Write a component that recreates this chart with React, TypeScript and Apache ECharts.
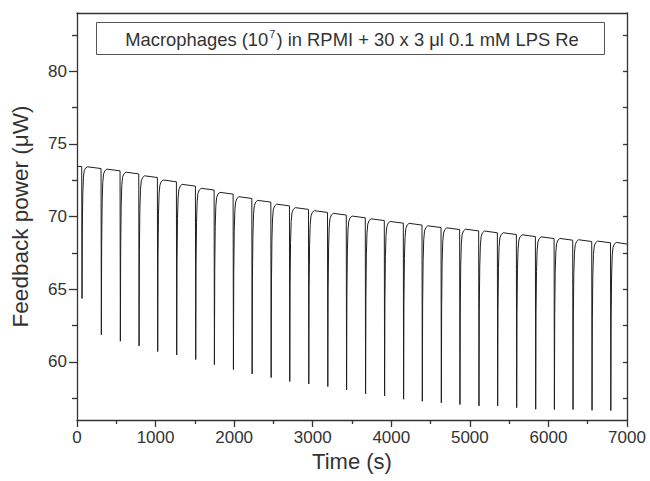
import React, { useEffect, useRef } from "react";
import * as echarts from "echarts";

// Injection (spike) times in seconds
const spikeTimes = [64, 310, 552, 790, 1027, 1269, 1511, 1749, 1991, 2229, 2471, 2708, 2950, 3192, 3431, 3673, 3915, 4157, 4395, 4637, 4874, 5116, 5354, 5596, 5838, 6076, 6313, 6555, 6794];
// Minimum feedback power reached at each spike (µW)
const spikeMinima = [64.36, 61.86, 61.42, 61.1, 60.71, 60.48, 60.16, 59.81, 59.47, 59.17, 58.92, 58.65, 58.48, 58.3, 58.07, 57.8, 57.66, 57.43, 57.29, 57.18, 57.06, 56.97, 56.97, 56.85, 56.74, 56.72, 56.72, 56.67, 56.65];
// Plateau level reached after each spike (µW)
const plateauLevels = [73.37, 73.21, 73.0, 72.75, 72.46, 72.16, 71.89, 71.61, 71.31, 71.06, 70.8, 70.56, 70.35, 70.17, 69.98, 69.79, 69.61, 69.48, 69.31, 69.17, 69.08, 68.95, 68.83, 68.69, 68.55, 68.44, 68.35, 68.26, 68.17];
const initialLevel = 73.45;
const endTime = 7000;
// Shape of the recovery after an injection (seconds after spike, fraction recovered)
const recoveryOffsets = [4, 10, 18, 28, 45, 70];
const recoveryFractions = [0.55, 0.8, 0.92, 0.97, 0.99, 1.0];
const plateauSag = 0.12;

const xTicks = [0, 1000, 2000, 3000, 4000, 5000, 6000, 7000];
const yMajor = [60, 65, 70, 75, 80];
const yMinor = [57.5, 62.5, 67.5, 72.5, 77.5, 82.5];

function buildSeries(): number[][] {
  const pts: number[][] = [[0, initialLevel], [spikeTimes[0] - 4, initialLevel - 0.01]];
  for (let k = 0; k < spikeTimes.length; k++) {
    const t = spikeTimes[k];
    const m = spikeMinima[k];
    const peak = plateauLevels[k] + 0.05;
    pts.push([t, m]);
    for (let j = 0; j < recoveryOffsets.length; j++) {
      pts.push([t + recoveryOffsets[j], m + recoveryFractions[j] * (peak - m)]);
    }
    const end = k < spikeTimes.length - 1 ? spikeTimes[k + 1] - 4 : endTime;
    pts.push([end, peak - plateauSag]);
  }
  return pts;
}

const FONT = "'Liberation Sans', Arial, Helvetica, sans-serif";
const AX = "#333";

export default function App() {
  const ref = useRef<HTMLDivElement>(null);
  useEffect(() => {
    if (!ref.current) return;
    const chart = echarts.init(ref.current, undefined, { renderer: "svg" });
    const lineStyle = { color: AX, width: 1.3 };
    chart.setOption({
      animation: false,
      backgroundColor: "#fff",
      textStyle: { fontFamily: FONT },
      grid: { left: 77, right: 23, top: 13, bottom: 61, containLabel: false },
      xAxis: [
        {
          type: "value", min: 0, max: 7000, interval: 1000, position: "bottom",
          name: "Time (s)", nameLocation: "middle", nameGap: 30,
          nameTextStyle: { fontSize: 22, color: AX, fontFamily: FONT },
          axisLine: { show: true, lineStyle },
          axisTick: { show: true, length: 7, inside: false, lineStyle },
          minorTick: { show: true, splitNumber: 2, length: 4, lineStyle },
          axisLabel: { fontSize: 17, color: AX, margin: 9, fontFamily: FONT, showMinLabel: true, showMaxLabel: true,
            customValues: xTicks, formatter: (v: number) => String(v) },
          splitLine: { show: false },
          minorSplitLine: { show: false },
        },
        {
          type: "value", min: 0, max: 7000, position: "top",
          axisLine: { show: true, lineStyle },
          axisTick: { show: false }, axisLabel: { show: false }, splitLine: { show: false },
        },
      ],
      yAxis: [
        {
          type: "value", min: 56, max: 84, position: "left",
          name: "Feedback power (\u03bcW)", nameLocation: "middle", nameGap: 45,
          nameTextStyle: { fontSize: 22.5, color: AX, fontFamily: FONT },
          axisLine: { show: true, lineStyle },
          axisTick: { show: true, length: 8, inside: false, lineStyle, customValues: yMajor },
          axisLabel: { fontSize: 17, color: AX, margin: 10, fontFamily: FONT, customValues: yMajor },
          splitLine: { show: false },
        },
        {
          type: "value", min: 56, max: 84, position: "left",
          axisLine: { show: false },
          axisTick: { show: true, length: 5, inside: false, lineStyle, customValues: yMinor },
          axisLabel: { show: false, customValues: yMinor }, splitLine: { show: false },
        },
        {
          type: "value", min: 56, max: 84, position: "right",
          axisLine: { show: true, lineStyle },
          axisTick: { show: true, length: 4, inside: true, lineStyle, customValues: [...yMinor, ...yMajor] },
          axisLabel: { show: false, customValues: [...yMinor, ...yMajor] }, splitLine: { show: false },
        },
      ],
      series: [
        {
          type: "line",
          xAxisIndex: 0,
          yAxisIndex: 0,
          data: buildSeries(),
          showSymbol: false,
          symbol: "none",
          lineStyle: { color: "#1e1e1e", width: 1 },
          clip: true,
        },
      ],
      graphic: [
        {
          type: "rect",
          shape: { x: 96.5, y: 22.5, width: 508, height: 32 },
          style: { fill: "#fff", stroke: "#555", lineWidth: 1 },
          z: 10,
        },
        {
          type: "text",
          x: 352,
          y: 39,
          z: 11,
          style: {
            text: "{a|Macrophages (10}{s|7}{a|) in RPMI + 30 x 3 \u03bcl 0.1 mM LPS Re}",
            align: "center",
            verticalAlign: "middle",
            fill: AX,
            rich: {
              a: { fontSize: 18.4, fontFamily: FONT, fill: AX, lineHeight: 22 },
              s: { fontSize: 11, fontFamily: FONT, fill: AX, lineHeight: 14, verticalAlign: "top", padding: [0, 1, 0, 1] },
            },
          },
        },
      ],
    });
    return () => chart.dispose();
  }, []);
  return <div ref={ref} style={{ position: "fixed", left: 0, top: 0, width: 650, height: 481 }} />;
}
